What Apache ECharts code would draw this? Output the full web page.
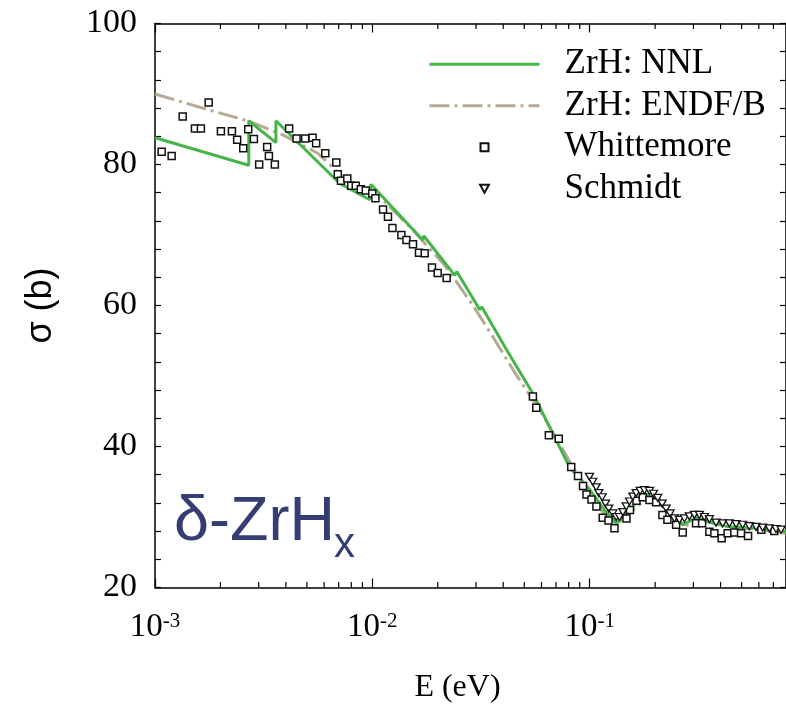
<!DOCTYPE html>
<html>
<head>
<meta charset="utf-8">
<script src="https://cdn.jsdelivr.net/npm/echarts@6.0.0/dist/echarts.min.js"></script>
<style>
  html, body { margin: 0; padding: 0; background: #ffffff; }
  #chart { width: 786px; height: 711px; }
</style>
</head>
<body>
<div id="chart"></div>
<script>
// Energy axis range (eV) and cross-section axis range (b)
const energyRange = [0.001, 0.8];
const sigmaRange = [20, 100];
const sigmaStep = 20;

// Minor ticks of the logarithmic energy axis (2..9 within each decade)
const energyMinorTicks = [
  0.002, 0.003, 0.004, 0.005, 0.006, 0.007, 0.008, 0.009,
  0.02, 0.03, 0.04, 0.05, 0.06, 0.07, 0.08, 0.09,
  0.2, 0.3, 0.4, 0.5, 0.6, 0.7
];

// ZrH: NNL evaluation
const nnlEnergy = [0.001, 0.0027, 0.0027, 0.0036, 0.0036, 0.00708, 0.00973, 0.00984,
  0.01706, 0.01723, 0.0239, 0.0245, 0.0312, 0.0319, 0.0415, 0.0546, 0.0807, 0.1,
  0.1195, 0.1329, 0.1524, 0.1786, 0.2084, 0.2376, 0.2679, 0.3085, 0.3553, 0.4389, 0.603, 0.8];
const nnlSigma = [83.8, 79.9, 86.2, 83.1, 86.2, 77.3, 75.0, 77.2,
  69.3, 69.9, 64.3, 64.8, 59.4, 59.8, 53.7, 47.6, 37.1, 33.9,
  30.6, 29.1, 31.0, 33.3, 32.4, 30.3, 28.9, 29.9, 29.3, 28.6, 28.4, 27.9];

// ZrH: ENDF/B evaluation
const endfEnergy = [0.001, 0.00179, 0.00273, 0.00387, 0.00561, 0.00739, 0.0114, 0.01517,
  0.02151, 0.02835, 0.03613, 0.0456, 0.06069, 0.07262, 0.08512, 0.1, 0.1169, 0.1329,
  0.1524, 0.1786, 0.2084, 0.2453, 0.2874, 0.337, 0.4389, 0.603, 0.8];
const endfSigma = [90.0, 87.7, 86.1, 84.2, 81.6, 78.1, 74.7, 70.9,
  65.7, 60.5, 55.4, 50.3, 44.5, 40.4, 36.7, 33.5, 30.3, 29.0,
  30.5, 32.4, 32.0, 29.6, 28.7, 29.4, 28.6, 28.2, 27.7];

// Whittemore measurements
const whittemoreEnergy = [0.001073, 0.001193, 0.001341, 0.001527, 0.001626, 0.001766, 0.00201, 0.002259,
  0.002388, 0.002547, 0.002685, 0.002851, 0.003015, 0.003281, 0.003342, 0.00356, 0.004142, 0.00448,
  0.004908, 0.005308, 0.005513, 0.006074, 0.006826, 0.006934, 0.007171, 0.007668, 0.007998, 0.008386,
  0.008848, 0.009328, 0.009989, 0.01033, 0.0112, 0.0118, 0.01237, 0.0136, 0.01435, 0.01538, 0.01639,
  0.01741, 0.01881, 0.01998, 0.02197, 0.05478, 0.05678, 0.06486, 0.07203, 0.08222, 0.08835, 0.09316,
  0.09667, 0.1019, 0.1074, 0.1148, 0.122, 0.13, 0.1476, 0.1532, 0.1641, 0.1754, 0.1883, 0.2021,
  0.2161, 0.2278, 0.2498, 0.2679, 0.3085, 0.3289, 0.3553, 0.3745, 0.4047, 0.4312, 0.4628, 0.4969,
  0.5353, 0.616, 0.7068];
const whittemoreSigma = [81.8, 81.2, 86.8, 85.1, 85.1, 88.8, 84.7, 84.7,
  83.5, 82.3, 85.0, 83.6, 80.0, 82.5, 81.2, 80.0, 85.1, 83.7,
  83.7, 83.8, 83.0, 81.6, 80.3, 78.6, 77.7, 78.0, 77.0, 77.0,
  76.5, 76.3, 75.9, 75.2, 73.6, 72.6, 71.0, 70.0, 69.3, 68.7, 67.5,
  67.4, 65.4, 64.6, 63.9, 47.1, 45.5, 41.6, 41.1, 37.1, 35.8, 34.4,
  33.2, 32.5, 31.5, 29.9, 29.5, 28.4, 29.8, 31.0, 32.3, 32.8, 32.4, 32.1,
  30.3, 29.6, 28.9, 27.8, 29.1, 29.1, 27.9, 27.7, 27.0, 27.7, 27.8, 27.7,
  27.3, 28.2, 28.0];

// Schmidt measurements
const schmidtEnergy = [0.0998, 0.1033, 0.1071, 0.1101, 0.1141, 0.1182, 0.1224, 0.1277, 0.1324, 0.1371,
  0.142, 0.1472, 0.1524, 0.1578, 0.1636, 0.1707, 0.1786, 0.1883, 0.1964, 0.2056, 0.2154, 0.2247,
  0.2344, 0.2453, 0.2586, 0.2727, 0.2874, 0.303, 0.3195, 0.337, 0.3553, 0.3815, 0.409, 0.4389,
  0.4713, 0.5053, 0.5424, 0.5825, 0.6245, 0.6705, 0.7198, 0.7591];
const schmidtSigma = [35.7, 35.0, 34.2, 33.4, 32.8, 31.9, 31.2, 30.5, 30.0, 30.0,
  30.7, 31.5, 32.2, 32.9, 33.4, 33.7, 33.8, 33.7, 33.3, 32.7, 31.9, 31.2,
  30.5, 29.8, 29.6, 29.8, 30.1, 30.3, 30.3, 30.0, 29.7, 29.2, 29.1, 29.1,
  29.0, 28.9, 28.7, 28.6, 28.5, 28.4, 28.3, 28.2];

const seriesNames = ['ZrH: NNL', 'ZrH: ENDF/B', 'Whittemore', 'Schmidt'];

const pairs = (xs, ys) => xs.map((x, i) => [x, ys[i]]);

const serif = 'Liberation Serif';
const sans = 'Liberation Sans';

// Marker outlines: open square and downward-pointing triangle
const squarePath = 'path://M0,0L10,0L10,10L0,10Z';
const downTrianglePath = 'path://M0,0L10,0L5,9Z';

function decadeLabel(v) {
  const p = Math.log10(v);
  const e = Math.round(p);
  if (Math.abs(p - e) > 1e-6) return '';
  return '10{sup|' + e + '}';
}

const xAxisCommon = {
  type: 'log',
  logBase: 10,
  min: energyRange[0],
  max: energyRange[1],
  axisLine: { show: true, onZero: false, lineStyle: { color: '#000', width: 1.5 } },
  axisTick: { show: true, inside: true, length: 9, lineStyle: { color: '#000', width: 1.2 } },
  minorTick: { show: false },
  splitLine: { show: false },
  minorSplitLine: { show: false }
};

const yAxisCommon = {
  type: 'value',
  min: sigmaRange[0],
  max: sigmaRange[1],
  interval: sigmaStep,
  axisLine: { show: true, onZero: false, lineStyle: { color: '#000', width: 1.5 } },
  axisTick: { show: true, inside: true, length: 6, lineStyle: { color: '#000', width: 1.2 } },
  minorTick: { show: true, splitNumber: 5, length: 6, lineStyle: { color: '#000', width: 1.2 } },
  splitLine: { show: false },
  minorSplitLine: { show: false }
};

const chart = echarts.init(document.getElementById('chart'), null, { renderer: 'canvas' });

chart.setOption({
  backgroundColor: '#ffffff',
  animation: false,
  grid: { left: 155, right: 0, top: 23.5, bottom: 123.5, containLabel: false, outerBoundsMode: 'none' },
  legend: {
    data: [
      { name: seriesNames[0], itemStyle: { opacity: 0, borderWidth: 0 } },
      { name: seriesNames[1], itemStyle: { opacity: 0, borderWidth: 0 } },
      { name: seriesNames[2], icon: squarePath },
      { name: seriesNames[3], icon: downTrianglePath }
    ],
    orient: 'vertical',
    left: 423,
    top: 38.5,
    itemWidth: 110,
    itemHeight: 8,
    itemGap: 0,
    symbolKeepAspect: true,
    selectedMode: false,
    lineStyle: { width: 'inherit' },
    textStyle: {
      fontFamily: serif, fontSize: 35, color: '#000', lineHeight: 41.5,
      padding: [0, 0, 0, 20]
    }
  },
  xAxis: [
    Object.assign({}, xAxisCommon, {
      position: 'bottom',
      name: 'E (eV)',
      nameLocation: 'middle',
      nameGap: 84,
      nameTextStyle: { fontFamily: serif, fontSize: 32, color: '#000', padding: [0, 26, 0, 0] },
      axisLabel: {
        show: true,
        margin: 23,
        formatter: decadeLabel,
        fontFamily: serif,
        fontSize: 33,
        lineHeight: 34,
        color: '#000',
        rich: { sup: { fontFamily: serif, fontSize: 21, lineHeight: 20, verticalAlign: 'top', color: '#000' } }
      }
    }),
    Object.assign({}, xAxisCommon, {
      position: 'top',
      axisLabel: { show: false }
    })
  ],
  yAxis: [
    Object.assign({}, yAxisCommon, {
      position: 'left',
      name: 'σ (b)',
      nameLocation: 'middle',
      nameRotate: 90,
      nameGap: 96,
      nameTextStyle: { fontFamily: sans, fontSize: 36, color: '#000' },
      axisLabel: { show: true, margin: 18, fontFamily: serif, fontSize: 34, color: '#000' }
    }),
    Object.assign({}, yAxisCommon, {
      position: 'right',
      axisLabel: { show: false }
    })
  ],
  series: [
    {
      name: 'ZrH: NNL',
      type: 'line',
      data: pairs(nnlEnergy, nnlSigma),
      symbol: 'none',
      z: 3,
      lineStyle: { color: '#46b549', width: 3 },
      itemStyle: { color: '#46b549' }
    },
    {
      name: 'ZrH: ENDF/B',
      type: 'line',
      data: pairs(endfEnergy, endfSigma),
      symbol: 'none',
      z: 2,
      lineStyle: { color: '#b8a993', width: 3, type: [20, 5, 3, 5] },
      itemStyle: { color: '#b8a993' }
    },
    {
      name: 'Whittemore',
      type: 'scatter',
      data: pairs(whittemoreEnergy, whittemoreSigma),
      symbol: squarePath,
      symbolSize: 7,
      z: 4,
      itemStyle: { color: '#ffffff', borderColor: '#111', borderWidth: 1.5, opacity: 1 }
    },
    {
      name: 'Schmidt',
      type: 'scatter',
      data: pairs(schmidtEnergy, schmidtSigma),
      symbol: downTrianglePath,
      symbolSize: [8, 7],
      z: 5,
      itemStyle: { color: '#ffffff', borderColor: '#111', borderWidth: 1.3, opacity: 1 }
    },
    {
      // minor ticks of the energy axis, on both the bottom and top frame lines
      type: 'custom',
      silent: true,
      clip: false,
      z: 6,
      data: energyMinorTicks.map(v => [v, sigmaRange[0]]),
      renderItem: function (params, api) {
        const v = api.value(0);
        const b = api.coord([v, sigmaRange[0]]);
        const t = api.coord([v, sigmaRange[1]]);
        const st = { stroke: '#000', lineWidth: 1.2 };
        return {
          type: 'group',
          children: [
            { type: 'line', shape: { x1: b[0], y1: b[1], x2: b[0], y2: b[1] - 5.5 }, style: st },
            { type: 'line', shape: { x1: t[0], y1: t[1], x2: t[0], y2: t[1] + 5.5 }, style: st }
          ]
        };
      }
    }
  ],
  graphic: [
    {
      type: 'text',
      z: 10,
      x: 174,
      y: 523,
      style: { text: 'δ-ZrH', fontFamily: sans, fontSize: 63, fill: '#343d74', verticalAlign: 'middle', align: 'left' }
    },
    {
      type: 'text',
      z: 10,
      x: 334,
      y: 545,
      style: { text: 'x', fontFamily: sans, fontSize: 42, fill: '#343d74', verticalAlign: 'middle', align: 'left' }
    }
  ]
});
</script>
</body>
</html>
